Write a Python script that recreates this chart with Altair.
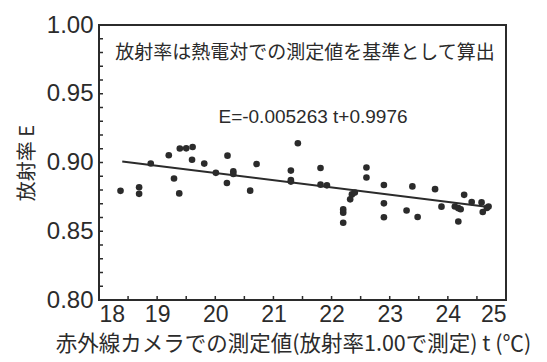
import altair as alt
import pandas as pd
import numpy as np

t_vals = [18.37, 18.69, 18.69, 18.89, 19.20, 19.29, 19.38, 19.39, 19.50, 19.61,
          19.60, 19.81, 20.01, 20.21, 20.20, 20.31, 20.31, 20.60, 20.71, 21.30,
          21.30, 21.30, 21.42, 21.81, 21.81, 21.92, 22.20, 22.20, 22.20, 22.32,
          22.35, 22.40, 22.60, 22.60, 22.90, 22.90, 22.90, 23.29, 23.39, 23.48,
          23.78, 23.89, 24.12, 24.18, 24.18, 24.22, 24.28, 24.41, 24.58, 24.60,
          24.67, 24.70]
e_vals = [0.8794, 0.8820, 0.8772, 0.8993, 0.9053, 0.8884, 0.8775, 0.9102, 0.9103, 0.9113,
          0.9020, 0.8992, 0.8925, 0.9050, 0.8851, 0.8936, 0.8917, 0.8795, 0.8989, 0.8941,
          0.8873, 0.8861, 0.9140, 0.8960, 0.8839, 0.8834, 0.8659, 0.8635, 0.8562, 0.8732,
          0.8768, 0.8781, 0.8964, 0.8891, 0.8836, 0.8703, 0.8602, 0.8651, 0.8826, 0.8604,
          0.8806, 0.8679, 0.8680, 0.8668, 0.8571, 0.8660, 0.8765, 0.8712, 0.8710, 0.8640,
          0.8670, 0.8680]

# regression line stated on the chart: E = -0.005263 t + 0.9976
slope = -0.005263
intercept = 0.9976
line_t = [18.4, 24.7]

x_ticks = [18, 19, 20, 21, 22, 23, 24, 25]
y_ticks = [0.80, 0.85, 0.90, 0.95, 1.00]
x_minor = [18.5, 19.0, 19.5, 20.0, 20.5, 21.0, 21.5, 22.0, 22.5, 23.0, 23.5, 24.0, 24.5]
y_minor = [round(0.80 + 0.01 * i, 2) for i in range(1, 20)]

note_text = "放射率は熱電対での測定値を基準として算出"
eq_text = "E=-0.005263 t+0.9976"
x_title = "赤外線カメラでの測定値(放射率1.00で測定) t (℃)"
y_title = "放射率 E"

W, H = 407, 275
INK = "#2b2b2b"
LATIN = "Liberation Sans"
CJK = "Noto Sans CJK JP"

pts = pd.DataFrame({"t": t_vals, "E": e_vals})
line_df = pd.DataFrame({"t": line_t, "E": [slope * v + intercept for v in line_t]})

xscale = alt.Scale(domain=[18, 25], nice=False, zero=False)
yscale = alt.Scale(domain=[0.80, 1.00], nice=False, zero=False)

xaxis = alt.Axis(values=x_ticks, format="d", tickSize=0, domain=False, grid=False,
                 labelFont=LATIN, labelFontSize=23, labelColor=INK, labelPadding=3,
                 title=x_title, titleFont=CJK, titleFontSize=21.5, titleFontWeight="normal",
                 titleColor=INK, titleX=194, titleY=44, titleBaseline="middle",
                 titleAlign="center")
yaxis = alt.Axis(values=y_ticks, format=".2f", tickSize=0, domain=False, grid=False,
                 labelFont=LATIN, labelFontSize=24, labelColor=INK, labelPadding=6,
                 title=y_title, titleFont=CJK, titleFontSize=20, titleFontWeight="normal",
                 titleColor=INK, titleX=-72, titleY=H / 2, titleAngle=-90,
                 titleBaseline="middle", titleAlign="center")

points = alt.Chart(pts).mark_circle(size=44, color=INK, opacity=1).encode(
    x=alt.X("t:Q", scale=xscale, axis=xaxis),
    y=alt.Y("E:Q", scale=yscale, axis=yaxis),
)

reg = alt.Chart(line_df).mark_line(color=INK, strokeWidth=2).encode(
    x=alt.X("t:Q", scale=xscale),
    y=alt.Y("E:Q", scale=yscale),
)

yt = alt.Chart(pd.DataFrame({"v": y_minor})).mark_rule(color=INK, strokeWidth=1.5).encode(
    y=alt.Y("v:Q", scale=yscale),
    x=alt.value(0), x2=alt.value(4),
)
xt = alt.Chart(pd.DataFrame({"v": x_minor})).mark_rule(color=INK, strokeWidth=1.5).encode(
    x=alt.X("v:Q", scale=xscale),
    y=alt.value(H), y2=alt.value(H - 4),
)

note = alt.Chart(pd.DataFrame({"s": [note_text]})).mark_text(
    font=CJK, fontSize=19, color=INK, align="center", baseline="middle"
).encode(text="s:N", x=alt.value(206), y=alt.value(28))

eq = alt.Chart(pd.DataFrame({"s": [eq_text]})).mark_text(
    font=LATIN, fontSize=19, color=INK, align="center", baseline="middle"
).encode(text="s:N", x=alt.value(214), y=alt.value(92))

chart = alt.layer(yt, xt, reg, points, note, eq).properties(
    width=W, height=H,
    autosize=alt.AutoSizeParams(type="none"),
    padding={"left": 91, "top": 17, "right": 33, "bottom": 60},
    background="white",
).configure_view(stroke=INK, strokeWidth=2)

chart.save("out.html", embed_options={"renderer": "svg", "actions": False})
